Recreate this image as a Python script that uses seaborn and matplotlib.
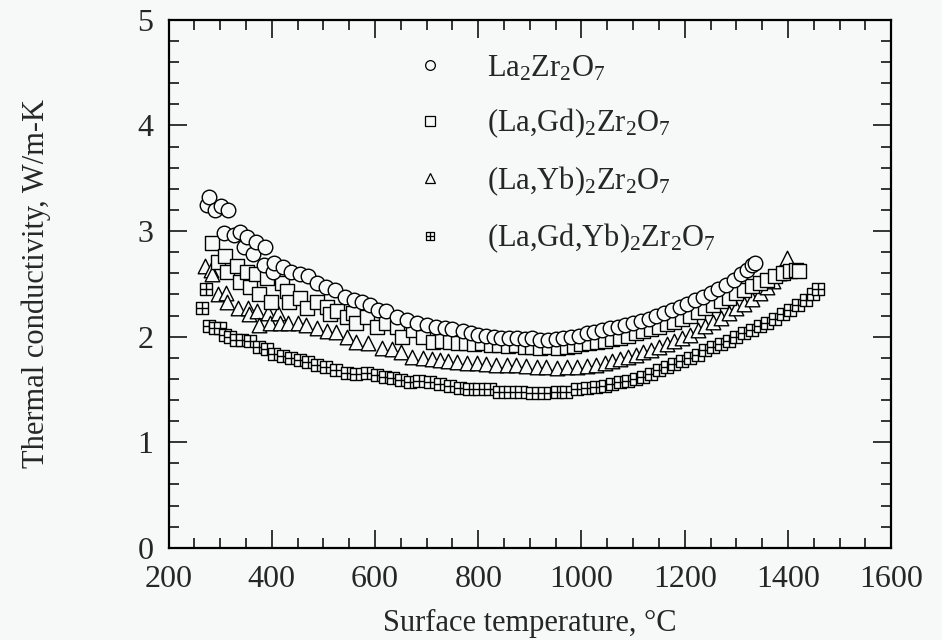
import pandas as pd
import matplotlib.pyplot as plt
import seaborn as sns
from matplotlib.path import Path
from matplotlib.lines import Line2D
from matplotlib.ticker import MultipleLocator

# La2Zr2O7 (circles)
t_la = [274, 279, 289, 301, 315, 307, 326, 338, 347, 351, 363, 370, 384, 386, 402, 405,
        421, 438, 454, 471, 487, 504, 522, 541, 560, 575, 590, 605, 622, 642, 661, 681,
        700, 719, 735, 750, 770, 785, 800, 815, 830, 845, 860, 875, 890, 905, 920, 935,
        950, 965, 980, 995, 1010, 1025, 1040, 1055, 1070, 1085, 1100, 1115, 1130, 1145,
        1160, 1175, 1190, 1205, 1220, 1235, 1250, 1265, 1280, 1295, 1310, 1320, 1330, 1336]
k_la = [3.25, 3.32, 3.20, 3.24, 3.20, 2.98, 2.96, 2.99, 2.85, 2.94, 2.78, 2.90, 2.68, 2.85, 2.61, 2.70,
        2.66, 2.61, 2.59, 2.57, 2.51, 2.47, 2.44, 2.38, 2.35, 2.33, 2.30, 2.25, 2.24, 2.19, 2.16, 2.13,
        2.11, 2.09, 2.08, 2.07, 2.05, 2.03, 2.02, 2.01, 2.00, 1.99, 1.99, 1.99, 1.98, 1.99, 1.97, 1.97,
        1.98, 1.99, 2.00, 2.01, 2.03, 2.04, 2.06, 2.08, 2.09, 2.11, 2.13, 2.15, 2.17, 2.20,
        2.22, 2.25, 2.28, 2.31, 2.35, 2.38, 2.41, 2.45, 2.49, 2.54, 2.59, 2.63, 2.68, 2.70]

# (La,Gd)2Zr2O7 (squares)
t_lagd = [285, 295, 309, 314, 332, 338, 351, 357, 370, 376, 390, 399, 419, 429, 434, 454,
          469, 487, 506, 512, 527, 545, 557, 564, 584, 603, 622, 642, 653, 673, 692, 712,
          730, 745, 760, 777, 792, 808, 825, 841, 858, 874, 890, 905, 920, 938, 955, 971,
          985, 1000, 1015, 1030, 1045, 1060, 1075, 1090, 1105, 1120, 1135, 1150, 1165, 1180,
          1195, 1210, 1225, 1240, 1255, 1270, 1285, 1300, 1315, 1330, 1345, 1360, 1375, 1390,
          1405, 1415, 1422]
k_lagd = [2.89, 2.71, 2.76, 2.61, 2.67, 2.52, 2.61, 2.47, 2.59, 2.40, 2.56, 2.33, 2.51, 2.43, 2.33, 2.37,
          2.27, 2.33, 2.28, 2.21, 2.24, 2.19, 2.22, 2.13, 2.19, 2.09, 2.13, 2.09, 2.00, 2.06, 2.00, 1.95,
          1.96, 1.95, 1.94, 1.94, 1.93, 1.94, 1.92, 1.92, 1.91, 1.92, 1.90, 1.90, 1.89, 1.90, 1.89, 1.90,
          1.91, 1.93, 1.94, 1.95, 1.96, 1.98, 1.99, 2.01, 2.03, 2.05, 2.07, 2.09, 2.12, 2.14,
          2.17, 2.20, 2.23, 2.27, 2.30, 2.34, 2.37, 2.41, 2.44, 2.48, 2.51, 2.54, 2.57, 2.60,
          2.62, 2.63, 2.62]

# (La,Yb)2Zr2O7 (triangles)
t_layb = [270, 283, 285, 295, 312, 314, 334, 353, 356, 372, 376, 392, 396, 411, 415, 431,
          450, 467, 487, 506, 525, 545, 564, 586, 613, 632, 651, 671, 692, 710, 725, 742,
          758, 778, 797, 815, 835, 855, 874, 893, 913, 932, 952, 972, 991, 1010, 1029, 1045,
          1060, 1075, 1090, 1105, 1120, 1135, 1150, 1165, 1180, 1195, 1210, 1225, 1240, 1255,
          1270, 1285, 1300, 1315, 1330, 1345, 1360, 1372, 1383, 1392, 1398]
k_layb = [2.67, 2.63, 2.59, 2.40, 2.41, 2.33, 2.27, 2.27, 2.21, 2.24, 2.11, 2.22, 2.13, 2.22, 2.13, 2.13,
          2.13, 2.11, 2.08, 2.05, 2.04, 2.00, 1.95, 1.94, 1.89, 1.88, 1.85, 1.81, 1.80, 1.79, 1.78, 1.77,
          1.76, 1.75, 1.75, 1.74, 1.73, 1.73, 1.73, 1.72, 1.71, 1.71, 1.70, 1.71, 1.71, 1.72, 1.73, 1.75,
          1.77, 1.79, 1.81, 1.83, 1.85, 1.87, 1.90, 1.93, 1.96, 1.99, 2.02, 2.06, 2.10, 2.14,
          2.18, 2.22, 2.27, 2.31, 2.36, 2.41, 2.47, 2.53, 2.60, 2.67, 2.74]

# (La,Gd,Yb)2Zr2O7 (boxed plus)
t_lagdyb = [264, 272, 279, 290, 299, 310, 318, 330, 343, 357, 376, 390, 405, 421, 437, 454,
            470, 487, 505, 525, 545, 564, 584, 603, 620, 634, 650, 667, 686, 706, 725, 745,
            765, 783, 802, 822, 841, 861, 883, 905, 928, 952, 970, 991, 1010, 1029, 1045, 1060,
            1075, 1090, 1105, 1120, 1135, 1150, 1165, 1180, 1195, 1210, 1225, 1240, 1255, 1270,
            1285, 1300, 1315, 1330, 1345, 1360, 1375, 1390, 1405, 1420, 1435, 1448, 1458]
k_lagdyb = [2.27, 2.45, 2.10, 2.08, 2.08, 2.02, 2.00, 1.97, 1.97, 1.96, 1.90, 1.88, 1.84, 1.82, 1.80, 1.78,
            1.76, 1.73, 1.71, 1.68, 1.66, 1.65, 1.66, 1.64, 1.62, 1.61, 1.59, 1.57, 1.58, 1.57, 1.55, 1.53,
            1.51, 1.50, 1.50, 1.50, 1.48, 1.48, 1.48, 1.47, 1.47, 1.48, 1.48, 1.50, 1.51, 1.52, 1.53, 1.55,
            1.57, 1.58, 1.60, 1.62, 1.65, 1.68, 1.71, 1.74, 1.77, 1.80, 1.83, 1.87, 1.90, 1.93,
            1.96, 2.00, 2.03, 2.06, 2.10, 2.13, 2.17, 2.21, 2.25, 2.30, 2.35, 2.40, 2.45]

labels = [r'La$_{\mathregular{2}}$Zr$_{\mathregular{2}}$O$_{\mathregular{7}}$',
          r'(La,Gd)$_{\mathregular{2}}$Zr$_{\mathregular{2}}$O$_{\mathregular{7}}$',
          r'(La,Yb)$_{\mathregular{2}}$Zr$_{\mathregular{2}}$O$_{\mathregular{7}}$',
          r'(La,Gd,Yb)$_{\mathregular{2}}$Zr$_{\mathregular{2}}$O$_{\mathregular{7}}$']

# square with a cross inside
boxplus = Path([(-1, -1), (1, -1), (1, 1), (-1, 1), (-1, -1), (0, -1), (0, 1), (-1, 0), (1, 0)],
               [Path.MOVETO, Path.LINETO, Path.LINETO, Path.LINETO, Path.CLOSEPOLY,
                Path.MOVETO, Path.LINETO, Path.MOVETO, Path.LINETO])

bg = '#f7f8f8'
sns.set_style('ticks')
plt.rcParams['font.family'] = ['Liberation Serif', 'DejaVu Serif']
plt.rcParams['mathtext.fontset'] = 'custom'
plt.rcParams['mathtext.rm'] = 'Liberation Serif'
plt.rcParams['mathtext.it'] = 'Liberation Serif'

fig = plt.figure(figsize=(9.42, 6.40), dpi=100, facecolor=bg)
ax = fig.add_axes([0.179, 0.144, 0.767, 0.825], facecolor=bg)

series = [
    (t_lagdyb, k_lagdyb, boxplus, 85),
    (t_layb, k_layb, '^', 110),
    (t_lagd, k_lagd, 's', 95),
    (t_la, k_la, 'o', 110),
]
for t, k, m, s in series:
    df = pd.DataFrame({'T': t, 'k': k})
    sns.scatterplot(data=df, x='T', y='k', marker=m, s=s, facecolor=bg,
                    edgecolor='black', linewidth=1.0, ax=ax, legend=False, zorder=3)

ax.set_xlim(200, 1600)
ax.set_ylim(0, 5)
ax.xaxis.set_major_locator(MultipleLocator(200))
ax.xaxis.set_minor_locator(MultipleLocator(50))
ax.yaxis.set_major_locator(MultipleLocator(1))
ax.yaxis.set_minor_locator(MultipleLocator(0.2))
ax.tick_params(which='both', direction='in', top=True, right=True, width=1.1, color='black',
               labelsize=23)
ax.tick_params(which='major', length=13)
ax.tick_params(which='minor', length=7)
ax.tick_params(axis='x', pad=12)
ax.tick_params(axis='y', pad=11)
for sp in ax.spines.values():
    sp.set_linewidth(1.6)
    sp.set_color('black')

ax.set_xlabel('Surface temperature, °C', fontsize=22, labelpad=11)
ax.set_ylabel('Thermal conductivity, W/m-K', fontsize=22, labelpad=62)

handles = [
    Line2D([], [], ls='none', marker='o', ms=7, mfc=bg, mec='black', mew=0.9),
    Line2D([], [], ls='none', marker='s', ms=6.5, mfc=bg, mec='black', mew=0.9),
    Line2D([], [], ls='none', marker='^', ms=7, mfc=bg, mec='black', mew=0.9),
    Line2D([], [], ls='none', marker=boxplus, ms=6, mfc=bg, mec='black', mew=0.9),
]
ax.legend(handles, labels, loc='upper left', bbox_to_anchor=(0.32, 0.965), frameon=False,
          fontsize=22, handlelength=1.0, handletextpad=1.35, labelspacing=0.78, borderpad=0)

fig.savefig('out.png', dpi=100, facecolor=bg)
